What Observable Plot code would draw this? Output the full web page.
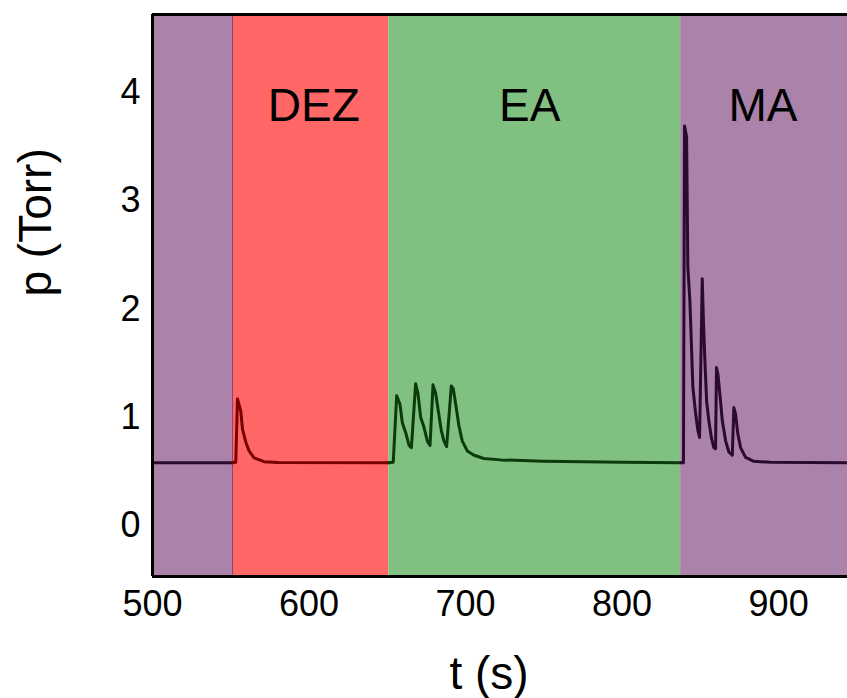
<!DOCTYPE html>
<html><head><meta charset="utf-8">
<script src="https://cdn.jsdelivr.net/npm/d3@7"></script>
<script src="https://cdn.jsdelivr.net/npm/@observablehq/plot@0.6"></script>
<style>html,body{margin:0;padding:0;background:#fff} #chart svg{display:block}</style>
</head><body><div id="chart"></div>
<script>
// Bands (precursor pulses)
const bandNames  = ["", "DEZ", "EA", "MA"];
const bandStarts = [500, 551, 651, 837.4];
const bandEnds   = [551, 651, 837.4, 944];
const bandFills  = ["#aa82aa", "#ff6666", "#80c080", "#aa82aa"];
const lineColors = ["#2b0a30", "#7a0000", "#0b3b0b", "#2b0a30"];
const labelTimes = [null, 603, 741, 890];
const labelY = 3.74;

// Axes
const xTicks = [500, 600, 700, 800, 900];
const yTicks = [0, 1, 2, 3, 4];
const xDomain = [500, 944];
const yDomain = [-0.47, 4.72];

// Pressure trace
const times = [500, 551, 553.2, 554.3, 556.4, 557.5, 559.6, 561.7, 564.9, 571.3, 580, 651,
  653.8, 656.0, 658.1, 659.6, 661.7, 663.9, 665.4, 668.1, 669.6, 671.3, 673.4, 675.6, 677.3,
  679.2, 680.9, 683.0, 684.5, 686.2, 687.9, 690.9, 692.2, 693.7, 695.8, 697.9, 701.1, 705.4,
  711.7, 722.4, 750, 800, 837.4,
  839.2, 839.9, 841.2, 841.6, 842.0, 843.3, 844.2, 845.2, 847.0, 848.4, 849.5, 851.2, 851.9,
  852.9, 854.0, 855.4, 857.0, 858.6, 859.7, 860.3, 861.2, 862.9, 864.0, 866.1, 868.2, 870.4,
  871.4, 872.5, 873.9, 875.7, 878.9, 884.2, 894.8, 944];
const pressures = [0.58, 0.58, 0.585, 1.17, 1.06, 0.89, 0.77, 0.69, 0.625, 0.59, 0.582, 0.58,
  0.585, 1.20, 1.12, 0.95, 0.86, 0.74, 0.72, 1.31, 1.22, 1.00, 0.91, 0.78, 0.74,
  1.30, 1.22, 1.02, 0.88, 0.78, 0.73, 1.29, 1.26, 1.12, 0.92, 0.78, 0.69, 0.65,
  0.62, 0.607, 0.595, 0.585, 0.58,
  0.58, 3.69, 3.59, 3.00, 2.39, 2.08, 1.71, 1.28, 1.03, 0.88, 0.815, 2.28, 1.92,
  1.52, 1.15, 0.97, 0.815, 0.72, 0.71, 1.46, 1.40, 1.15, 0.97, 0.785, 0.68, 0.65,
  1.09, 1.03, 0.85, 0.72, 0.63, 0.594, 0.585, 0.58];

const bands = bandNames.map((name, i) => ({name, start: bandStarts[i], end: bandEnds[i], fill: bandFills[i], line: lineColors[i], lx: labelTimes[i]}));
const trace = times.map((t, i) => ({t, p: pressures[i]}));

const lineMarks = bands.map(b => Plot.line(trace.filter(d => d.t >= b.start && d.t <= b.end), {
  x: "t", y: "p", stroke: b.line, strokeWidth: 3, strokeLinejoin: "round", strokeLinecap: "round"
}));

const font = "'Liberation Sans', Arial, Helvetica, sans-serif";

const chart = Plot.plot({
  width: 847,
  height: 698,
  marginLeft: 152,
  marginRight: 0,
  marginTop: 14,
  marginBottom: 122,
  style: {fontFamily: font, fontSize: "36px", background: "white", color: "black"},
  color: {type: "identity"},
  x: {domain: xDomain, ticks: xTicks, tickSize: 0, tickPadding: 14, tickFormat: d3.format("d"), label: null},
  y: {domain: yDomain, ticks: yTicks, tickSize: 0, tickPadding: 12, tickFormat: d3.format("d"), label: null},
  marks: [
    Plot.rect(bands, {x1: "start", x2: "end", fill: "fill"}),
    Plot.ruleX([bandStarts[1]], {stroke: "#7a3a7a", strokeWidth: 1}),
    ...lineMarks,
    Plot.text(bands.filter(d => d.name), {x: "lx", y: () => labelY, text: "name", fontSize: 46, lineAnchor: "bottom", fill: "black"}),
    Plot.ruleX([xDomain[0]], {stroke: "black", strokeWidth: 3}),
    Plot.ruleY(yDomain, {stroke: "black", strokeWidth: 3}),
    Plot.text(["t (s)"], {text: d => d, frameAnchor: "bottom", dx: -11, dy: 112, lineAnchor: "bottom", fontSize: 46, fill: "black"}),
    Plot.text(["p (Torr)"], {text: d => d, frameAnchor: "left", rotate: -90, dx: -102, dy: 1, lineAnchor: "bottom", fontSize: 46, fill: "black"})
  ]
});
document.getElementById("chart").appendChild(chart);
</script>
</body></html>
